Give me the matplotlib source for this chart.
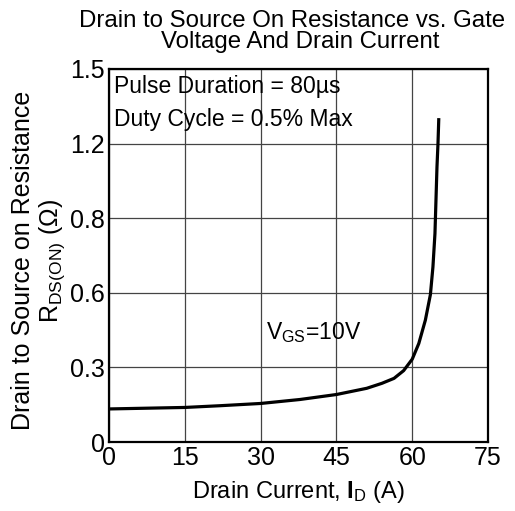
import matplotlib
matplotlib.use('Agg')
import matplotlib.pyplot as plt

plt.rcParams['font.family'] = 'Liberation Sans'
plt.rcParams['mathtext.fontset'] = 'custom'
plt.rcParams['mathtext.rm'] = 'Liberation Sans'
plt.rcParams['mathtext.it'] = 'Liberation Sans'
plt.rcParams['mathtext.bf'] = 'Liberation Sans:bold'

# curve (VGS = 10V)
drain_current = [0, 15, 22, 30, 37.8, 45, 51, 54, 56.4, 58.3, 60, 61.3, 62.6,
                 63.6, 64.1, 64.5, 64.7, 64.9, 65.1, 65.25]
rds_on = [0.133, 0.139, 0.146, 0.155, 0.171, 0.191, 0.216, 0.236, 0.256, 0.287,
          0.333, 0.396, 0.49, 0.593, 0.704, 0.838, 0.972, 1.106, 1.2, 1.296]

x_ticks = [0, 15, 30, 45, 60, 75]
y_ticks = [0, 0.3, 0.6, 0.9, 1.2, 1.5]
y_tick_labels = ['0', '0.3', '0.6', '0.8', '1.2', '1.5']

fig = plt.figure(figsize=(5.15, 5.11), dpi=100)
ax = fig.add_axes([0.2117, 0.135, 0.7359, 0.730])

ax.plot(drain_current, rds_on, color='black', lw=2.3, solid_joinstyle='round')

ax.set_xlim(0, 75)
ax.set_ylim(0, 1.5)
ax.set_xticks(x_ticks)
ax.set_yticks(y_ticks)
ax.set_yticklabels(y_tick_labels)
ax.tick_params(length=0, labelsize=18, pad=3)
ax.grid(True, color='#444444', lw=0.9)
for s in ax.spines.values():
    s.set_linewidth(1.6)

ax.text(0.9, 1.475, 'Pulse Duration = 80µs', fontsize=16.5, va='top', ha='left')
ax.text(0.9, 1.345, 'Duty Cycle = 0.5% Max', fontsize=16.5, va='top', ha='left')
ax.text(31.0, 0.44, r'V$_{\mathrm{GS}}$=10V', fontsize=16.5, va='center', ha='left')

ax.set_xlabel(r'Drain Current, $\mathbf{I}_{\mathrm{D}}$ (A)', fontsize=17, labelpad=6)

fig.text(0.045, 0.49, 'Drain to Source on Resistance', rotation=90,
         fontsize=18, ha='center', va='center')
fig.text(0.101, 0.49, r'R$_{\mathrm{DS(ON)}}$ ($\Omega$)', rotation=90,
         fontsize=18, ha='center', va='center')

# title, two lines
fig.text(0.568, 0.9477, 'Drain to Source On Resistance vs. Gate',
         fontsize=17.3, ha='center', va='baseline')
fig.text(0.582, 0.9055, 'Voltage And Drain Current',
         fontsize=17.3, ha='center', va='baseline')

fig.savefig('out.png', dpi=100)
